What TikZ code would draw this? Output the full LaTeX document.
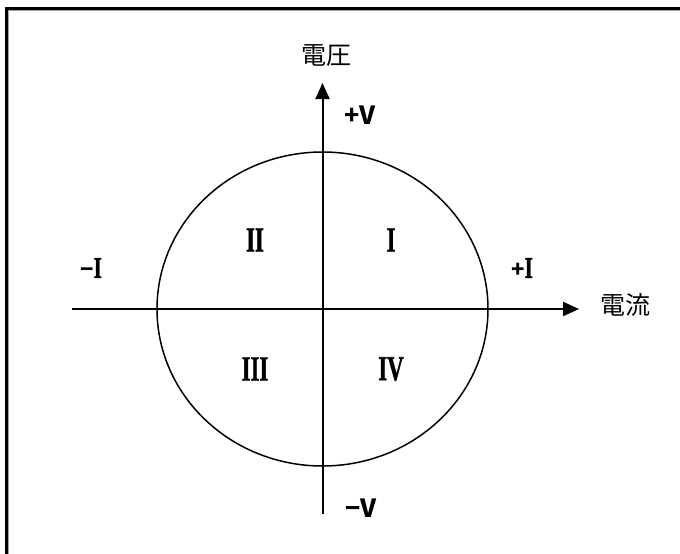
\documentclass[tikz,border=0pt]{standalone}
\usepackage{fontspec}
\setmainfont{Liberation Serif}
\newfontfamily\cjk{Noto Sans CJK JP}
\newfontfamily\romanf[FakeBold=1.6]{Liberation Serif Bold}
\usetikzlibrary{arrows.meta}
\begin{document}
\begin{tikzpicture}[x=1pt,y=-1pt,
  axis/.style={line width=2pt,-{Triangle[length=16pt,width=14pt]}},
  cjklabel/.style={font=\cjk\fontsize{25}{25}\selectfont,inner sep=0pt},
  signlabel/.style={font=\cjk\bfseries\fontsize{25}{25}\selectfont,inner sep=0pt},
  roman/.style={font=\romanf\fontsize{35}{35}\selectfont,inner sep=0pt}]
\clip (0,0) rectangle (680,554);
\fill[white] (0,0) rectangle (680,554);
% frame (only top and left visible)
\draw[line width=2.5pt] (6.25,8.25) rectangle (720,600);
\draw[gray!70,line width=0.8pt] (700,9.9) -- (7.9,9.9) -- (7.9,600);
% circle
\draw[line width=1.5pt] (322.5,309) ellipse [x radius=165.5pt,y radius=157pt];
% axes
\coordinate (hl) at (72,309);
\coordinate (hr) at (579,309);
\coordinate (vb) at (322.5,514);
\coordinate (vt) at (322.5,83);
\draw[axis] (hl) -- (hr);
\draw[axis] (vb) -- (vt);
% axis labels
\node[cjklabel] (volt) at (326,56) {電圧};
\node[cjklabel] (curr) at (625,305) {電流};
\node[signlabel] (pv) at (360,115) {+V};
\node[signlabel] (mv) at (361,508) {−V};
\node[inner sep=0pt] (mi) at (91,268) {{\cjk\bfseries\fontsize{22}{22}\selectfont −}{\romanf\fontsize{30}{30}\selectfont\scalebox{0.7}[1]{I}}};
\node[inner sep=0pt] (pi) at (522,268) {{\cjk\bfseries\fontsize{22}{22}\selectfont +}{\romanf\fontsize{30}{30}\selectfont\scalebox{0.7}[1]{I}}};
% quadrant labels
\node[roman] (q1) at (391,240) {\scalebox{0.65}[1]{I}};
\node[roman] (q2) at (255,240) {\scalebox{0.65}[1]{II}};
\node[roman] (q3) at (255,369) {\scalebox{0.65}[1]{III}};
\node[roman] (q4) at (391,369) {\scalebox{0.65}[1]{IV}};
\end{tikzpicture}
\end{document}
